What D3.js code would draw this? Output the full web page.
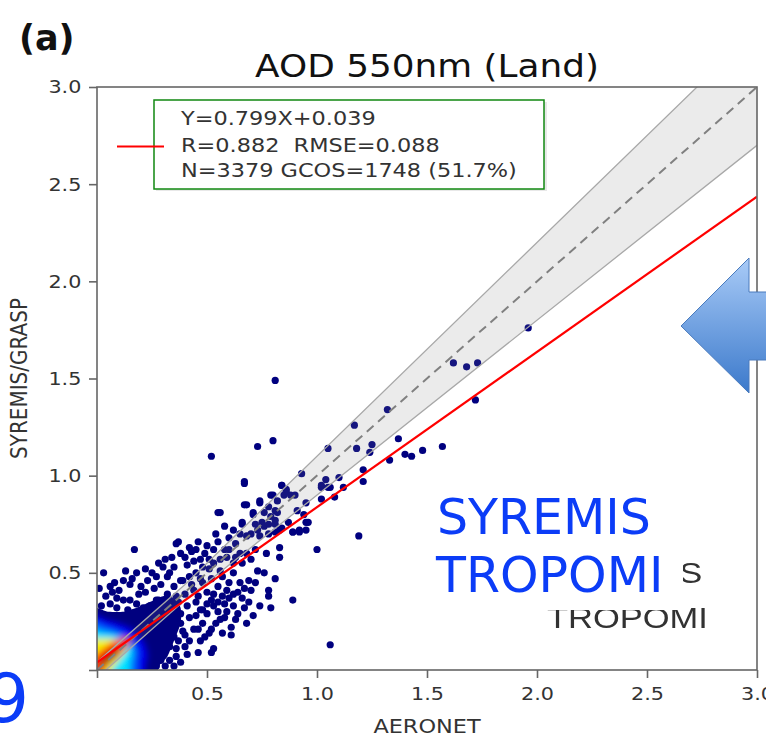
<!DOCTYPE html>
<html>
<head>
<meta charset="utf-8">
<script src="https://cdn.jsdelivr.net/npm/d3@7"></script>
<style>
  html, body { margin: 0; padding: 0; background: #fff; }
  svg { display: block; font-family: "DejaVu Sans", sans-serif; }
  text { white-space: pre; }
</style>
</head>
<body>
<script>
// ---- data ----
var xTicks = [0, 0.5, 1.0, 1.5, 2.0, 2.5, 3.0];
var yTicks = [0, 0.5, 1.0, 1.5, 2.0, 2.5, 3.0];
var legendLines = ["Y=0.799X+0.039", "R=0.882  RMSE=0.088", "N=3379 GCOS=1748 (51.7%)"];
var fitLine = [[0, 0.039], [3.0, 2.436]];
var oneToOne = [[0, 0], [3.0, 3.0]];
var bandUpper = [[0, 0.04], [0.4, 0.44], [3.0, 3.3]];
var bandLower = [[0, -0.04], [0.4, 0.36], [3.0, 2.7]];

// scattered (low density) points  [AERONET, SYREMIS/GRASP]
var points = [
  [0.81,1.49],[0.52,1.10],[0.73,1.15],[0.80,1.18],[0.67,0.97],[0.56,0.81],[1.17,1.26],[1.32,1.34],
  [1.62,1.58],[1.68,1.56],[1.73,1.58],[1.72,1.39],[1.57,1.15],[1.48,1.13],[1.43,1.10],[1.40,1.11],
  [1.37,1.19],[1.33,1.08],[1.25,1.16],[1.18,1.14],[1.24,1.12],[1.05,1.14],[1.21,1.03],[1.21,0.97],
  [1.12,0.94],[1.08,0.89],[1.04,0.98],[1.10,0.99],[0.93,1.01],[1.02,0.94],[1.06,0.94],[0.84,0.95],
  [0.86,0.92],[0.90,0.90],[0.79,0.90],[0.85,0.90],[0.74,0.87],[0.68,0.85],[0.78,0.84],[0.71,0.80],
  [0.81,0.82],[0.79,0.79],[0.75,0.76],[0.66,0.76],[0.72,0.75],[0.76,0.74],[0.81,0.77],[0.84,0.73],
  [0.87,0.76],[0.95,0.76],[1.02,0.88],[0.94,0.80],[1.19,0.69],[0.92,0.71],[0.89,0.71],[0.95,0.72],
  [0.81,0.71],[0.78,0.75],[0.83,0.72],[0.70,0.70],[0.65,0.70],[0.74,0.69],[1.96,1.76],[1.06,0.13],
  [0.67,0.96],[0.84,0.95],[1.02,0.95],[1.05,0.94],[0.80,0.90],[0.88,0.90],[0.67,0.85],[0.74,0.86],
  [0.55,0.81],[0.95,0.86],[0.96,0.76],[0.89,0.71],[0.92,0.72],[1.00,0.62],[0.83,0.63],[0.77,0.60],
  [0.72,0.62],[0.66,0.75],[0.71,0.81],[0.81,0.75],[0.82,0.81],[0.17,0.62],[0.37,0.66],[0.36,0.65],
  [0.13,0.51],[0.03,0.50],[0.45,0.62],[0.43,0.61],[0.53,0.62],[0.59,0.58],[0.81,0.47],[0.78,0.41],
  [0.78,0.38],[0.89,0.36],[0.79,0.32],[0.67,0.32],[0.61,0.18],[0.53,0.11],[0.52,0.09],[0.54,0.24],
  [0.58,0.27],[0.62,0.33],[0.66,0.37],[0.65,0.45],[0.73,0.51],[0.70,0.57],[0.83,0.58],[0.76,0.50],
  [0.62,0.50],[0.69,0.46],[0.59,0.41],[0.56,0.51],[0.51,0.52],[0.47,0.57],[0.41,0.54],[0.35,0.53],
  [0.30,0.53],[0.31,0.57],[0.38,0.46],[0.32,0.48],[0.27,0.48],[0.23,0.46],[0.20,0.43],[0.15,0.44],
  [0.10,0.41],[0.04,0.38],[0.44,0.41],[0.48,0.45],[0.42,0.48],[0.52,0.36],[0.57,0.38],[0.62,0.39],
  [0.55,0.30],[0.48,0.31],[0.59,0.30],[0.44,0.21],[0.42,0.15],[0.40,0.12],[0.36,0.07],[0.46,0.09],
  [0.29,0.05],[0.21,0.05],[0.35,0.17],[0.38,0.24],[0.32,0.24],[0.38,0.29],[0.42,0.27],[0.48,0.24],
  [0.51,0.19],[0.33,0.12],[0.86,0.93],[0.91,0.82],[0.82,0.87],[0.76,0.81],[0.78,0.70],[0.73,0.72],
  [0.68,0.69],[0.63,0.65],[0.60,0.62],[0.65,0.60],[0.56,0.57],[0.51,0.57],[0.48,0.53],[0.45,0.50],
  [0.39,0.46],[0.35,0.43],[0.32,0.39],[0.27,0.36],[0.24,0.33],[0.36,0.38],[0.41,0.33],[0.57,0.19],
  [0.63,0.26],[0.12,0.36],[0.07,0.40],[0.19,0.39],[0.26,0.42],[0.45,0.35],[0.50,0.40],[0.30,0.34],
  [0.02,0.33],[0.06,0.34],[0.09,0.32],[0.14,0.31],[0.18,0.34],[0.21,0.32],[0.25,0.33],[0.28,0.36],
  [0.31,0.31],[0.34,0.33],[0.33,0.28],[0.36,0.27],[0.35,0.22],[0.39,0.20],[0.37,0.15],[0.40,0.18],
  [0.36,0.11],[0.33,0.05],[0.31,0.02],[0.27,0.02],[0.24,0.01],[0.35,0.02],[0.38,0.04],[0.41,0.08],
  [0.47,0.15],[0.45,0.28],[0.47,0.31],[0.50,0.29],[0.53,0.33],[0.55,0.35],[0.58,0.34],[0.60,0.37],
  [0.64,0.40],[0.67,0.42],[0.70,0.41],[0.72,0.45],[0.60,0.45],[0.55,0.43],[0.52,0.47],[0.57,0.48],
  [0.62,0.55],[0.66,0.55],[0.68,0.60],[0.63,0.58],[0.58,0.62],[0.55,0.66],[0.60,0.68],[0.62,0.72],
  [0.58,0.74],[0.54,0.70],[0.50,0.64],[0.46,0.66],[0.42,0.63],[0.40,0.58],[0.38,0.60],[0.34,0.58],
  [0.28,0.55],[0.25,0.50],[0.22,0.52],[0.18,0.50],[0.16,0.47],[0.12,0.46],[0.08,0.45],[0.06,0.43],
  [0.01,0.42],[0.09,0.37],[0.15,0.36],[0.22,0.40],[0.29,0.44],[0.33,0.50],[0.44,0.56],[0.49,0.60],
  [0.53,0.55],[0.47,0.47],[0.43,0.44],[0.40,0.39],[0.37,0.35],[0.46,0.38],[0.50,0.34],[0.53,0.39],
  [0.56,0.26],[0.52,0.21],[0.49,0.17],[0.46,0.21],[0.61,0.22],[0.64,0.29],[0.69,0.35],[0.71,0.28],
  [0.74,0.33],[0.68,0.24]
];

// density core, outlines of each colour level (jet colormap), low to high
var coreColors = ["#00007f", "#0000f0", "#0070ff", "#00e4ff", "#f4f000", "#ff3000", "#b00000"];
var coreNavy   = [[-0.05,-0.05],[-0.05,0.31],[0.05,0.30],[0.12,0.30],[0.18,0.32],[0.24,0.35],[0.30,0.38],
                  [0.35,0.37],[0.38,0.32],[0.38,0.24],[0.35,0.15],[0.32,0.07],[0.28,0.02],[0.25,-0.05]];
var coreBlue   = [[-0.05,-0.05],[-0.05,0.28],[0.04,0.26],[0.10,0.24],[0.16,0.21],[0.21,0.15],[0.23,0.08],[0.22,0.02],[0.20,-0.05]];
var coreLight  = [[-0.05,-0.05],[-0.05,0.24],[0.04,0.22],[0.09,0.20],[0.14,0.17],[0.18,0.11],[0.18,0.05],[0.16,-0.05]];
var coreCyan   = [[-0.05,-0.05],[-0.05,0.20],[0.03,0.19],[0.08,0.18],[0.13,0.15],[0.16,0.10],[0.15,0.04],[0.13,-0.05]];
var coreYellow = [[-0.05,-0.05],[-0.05,0.15],[0.02,0.16],[0.07,0.16],[0.12,0.14],[0.13,0.10],[0.10,0.05],[0.07,0.01],[0.04,-0.05]];
var coreRed    = [[-0.04,-0.04],[-0.02,0.06],[0.03,0.11],[0.08,0.15],[0.13,0.17],[0.15,0.14],[0.10,0.08],[0.05,0.03],[0.01,-0.03]];
var coreDark   = [[0.015,0.03],[0.03,0.07],[0.06,0.10],[0.09,0.11],[0.095,0.085],[0.065,0.05],[0.035,0.025]];
var coreLevels = [coreNavy, coreBlue, coreLight, coreCyan, coreYellow, coreRed, coreDark];

(function() {
  // ---- layout ----
  var W = 766, H = 740;
  var pl = 97, pr = 757, pt = 87, pb = 670;
  var S = 1.12;   // the figure is a little stretched sideways

  var x = d3.scaleLinear().domain([0, 3]).range([pl, pr]);
  var y = d3.scaleLinear().domain([0, 3]).range([pb, pt]);

  var svg = d3.select("body").append("svg").attr("width", W).attr("height", H);
  var defs = svg.append("defs");
  defs.append("clipPath").attr("id", "plot")
    .append("rect").attr("x", pl).attr("y", pt).attr("width", pr - pl).attr("height", pb - pt);
  defs.append("filter").attr("id", "blurBig").attr("x", "-50%").attr("y", "-50%").attr("width", "200%").attr("height", "200%")
    .append("feGaussianBlur").attr("stdDeviation", 3);
  defs.append("filter").attr("id", "blurSmall")
    .append("feGaussianBlur").attr("stdDeviation", 0.7);
  var grad = defs.append("linearGradient").attr("id", "arrowFill").attr("x1", 0).attr("y1", 0).attr("x2", 0).attr("y2", 1);
  grad.append("stop").attr("offset", "0%").attr("stop-color", "#a9cbf7");
  grad.append("stop").attr("offset", "100%").attr("stop-color", "#3b79cb");

  svg.append("rect").attr("width", W).attr("height", H).attr("fill", "#fff");

  var line = d3.line().x(function(d) { return x(d[0]); }).y(function(d) { return y(d[1]); });
  var blob = d3.line().x(function(d) { return x(d[0]); }).y(function(d) { return y(d[1]); })
    .curve(d3.curveCardinalClosed.tension(0.3));

  var plot = svg.append("g").attr("clip-path", "url(#plot)");

  // density core + scattered points
  plot.append("path").attr("d", blob(coreNavy)).attr("fill", coreColors[0]).attr("filter", "url(#blurSmall)");

  plot.append("g").attr("filter", "url(#blurSmall)")
    .selectAll("circle").data(points).enter().append("circle")
      .attr("cx", function(d) { return x(d[0]); })
      .attr("cy", function(d) { return y(d[1]); })
      .attr("r", 3.6)
      .attr("fill", "#00007f");

  var hot = plot.append("g").attr("filter", "url(#blurBig)");
  hot.selectAll("path").data(coreLevels.slice(1)).enter().append("path")
    .attr("d", function(d) { return blob(d); })
    .attr("fill", function(d, i) { return coreColors[i + 1]; });

  // GCOS envelope
  var bandPts = bandUpper.concat(bandLower.slice().reverse());
  plot.append("path").attr("d", line(bandPts) + "Z")
    .attr("fill", "#808080").attr("fill-opacity", 0.16);
  [bandUpper, bandLower].forEach(function(b) {
    plot.append("path").attr("d", line(b)).attr("fill", "none")
      .attr("stroke", "#a8a8a8").attr("stroke-width", 1.3);
  });
  plot.append("path").attr("d", line(oneToOne)).attr("fill", "none")
    .attr("stroke", "#808080").attr("stroke-width", 2).attr("stroke-dasharray", "9,6");
  plot.append("path").attr("d", line(fitLine)).attr("fill", "none")
    .attr("stroke", "#ff0000").attr("stroke-width", 2.2);

  // frame and axes
  svg.append("rect").attr("x", pl).attr("y", pt).attr("width", pr - pl).attr("height", pb - pt)
    .attr("fill", "none").attr("stroke", "#666").attr("stroke-width", 1.6);

  var fmt = function(d) { return d === 0 ? "" : d3.format(".1f")(d); };
  var xAxis = svg.append("g").attr("transform", "translate(0," + pb + ")")
    .call(d3.axisBottom(x).tickValues(xTicks).tickSize(8).tickPadding(4).tickFormat(fmt));
  var yAxis = svg.append("g").attr("transform", "translate(" + pl + ",0)")
    .call(d3.axisLeft(y).tickValues(yTicks).tickSize(8).tickPadding(6).tickFormat(fmt));
  [xAxis, yAxis].forEach(function(a) {
    a.select(".domain").remove();
    a.selectAll(".tick line").attr("stroke", "#666").attr("stroke-width", 1.6);
    a.selectAll(".tick text").attr("fill", "#333").style("font-size", "18.5px")
      .style("font-family", "DejaVu Sans").attr("transform", "scale(" + S + ",1)");
  });
  xAxis.selectAll(".tick text").attr("dy", "0.95em");

  function stext(sel, px, py, str, size, anchor) {
    return sel.append("text")
      .attr("transform", "translate(" + px + "," + py + ") scale(" + S + ",1)")
      .attr("text-anchor", anchor || "start")
      .style("font-size", size + "px")
      .text(str);
  }

  stext(svg, (pl + pr) / 2, 77, "AOD 550nm (Land)", 32, "middle").attr("fill", "#111");
  svg.append("text").attr("x", 19).attr("y", 50).attr("fill", "#111")
    .style("font-size", "35px").style("font-weight", "bold").text("(a)");
  stext(svg, (pl + pr) / 2, 733, "AERONET", 20, "middle").attr("fill", "#333");
  stext(svg, 27, (pt + pb) / 2, "SYREMIS/GRASP", 20, "middle").attr("fill", "#333")
    .attr("transform", "translate(27," + ((pt + pb) / 2) + ") scale(" + S + ",1) rotate(-90)");

  // legend
  var lg = svg.append("g");
  lg.append("rect").attr("x", 156).attr("y", 102).attr("width", 391).attr("height", 89)
    .attr("fill", "#e8e8e8").attr("filter", "url(#blurSmall)");
  lg.append("rect").attr("x", 154).attr("y", 100).attr("width", 390).attr("height", 89)
    .attr("fill", "#fff").attr("stroke", "#118811").attr("stroke-width", 1.5);
  lg.append("line").attr("x1", 117).attr("x2", 164).attr("y1", 146.5).attr("y2", 146.5)
    .attr("stroke", "#ff0000").attr("stroke-width", 2.2);
  var legendY = [125, 152, 177];
  legendLines.forEach(function(t, i) {
    stext(lg, 181, legendY[i], t, 20, "start").attr("fill", "#333");
  });

  // pasted-over annotation
  var ann = svg.append("g");
  var old = ann.append("g").attr("fill", "#333").style("font-family", "Liberation Sans").attr("filter", "url(#blurSmall)");
  old.append("text").attr("transform", "translate(547,583) scale(1.15,1)").style("font-size", "30px").text("SYREMIS");
  old.append("text").attr("transform", "translate(547,628) scale(1.15,1)").style("font-size", "30px").text("TROPOMI");
  ann.append("rect").attr("x", 428).attr("y", 486).attr("width", 255).attr("height", 124).attr("fill", "#fff");
  var blue = "#0b3cf7";
  ann.append("text").attr("x", 437).attr("y", 534).attr("fill", blue).style("font-size", "49px").text("SYREMIS");
  ann.append("text").attr("x", 436).attr("y", 592).attr("fill", blue).style("font-size", "49px").text("TROPOMI");
  ann.append("text").attr("x", 29).attr("y", 722).attr("text-anchor", "end").attr("fill", blue)
    .style("font-size", "68px").text("9");

  var arrow = [[681,326],[749,258],[749,292],[770,292],[770,360],[749,360],[749,393]];
  ann.append("path").attr("d", d3.line()(arrow) + "Z")
    .attr("fill", "url(#arrowFill)").attr("stroke", "#4a7bbd").attr("stroke-width", 1);
})();
</script>
</body>
</html>
